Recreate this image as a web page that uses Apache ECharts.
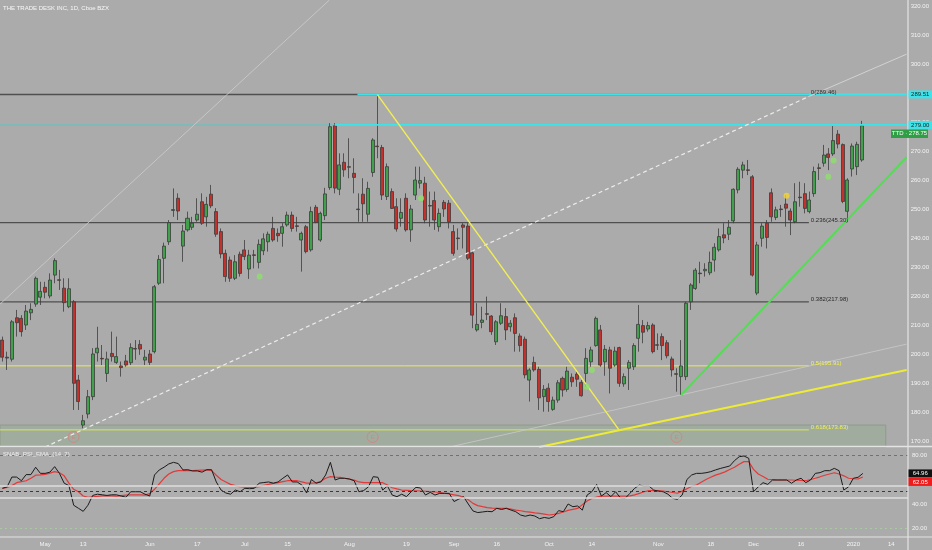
<!DOCTYPE html>
<html><head><meta charset="utf-8">
<script src="https://cdn.jsdelivr.net/npm/echarts@6/dist/echarts.min.js"></script>
<style>html,body{margin:0;padding:0;background:#ababab;overflow:hidden}#c{width:932px;height:550px}</style>
</head><body><div id="c"></div>
<script>
// ---------- categories ----------
const firstDay = '2019-04-17';
const categoryCount = 191;
const holidays = ['2019-04-19','2019-05-27','2019-07-04','2019-09-02','2019-11-28','2019-12-25','2020-01-01'];
const tickDates  = ['2019-05-01','2019-05-13','2019-06-03','2019-06-17','2019-07-01','2019-07-15','2019-08-01','2019-08-19','2019-09-03','2019-09-16','2019-10-01','2019-10-14','2019-11-01','2019-11-18','2019-12-02','2019-12-16','2020-01-02','2020-01-14'];
const tickLabels = ['May','13','Jun','17','Jul','15','Aug','19','Sep','16','Oct','14','Nov','18','Dec','16','2020','14'];
const priceTicks = [170,180,190,200,210,220,230,240,250,260,270,280,290,300,310,320];
const rsiTicks = [20,40,80];

// ---------- OHLC ----------
const open = [204.8,198.9,198.2,212.5,212.3,210,214.2,217.2,219.6,223,
220,227.2,225.6,222.7,216.3,218,191,175.5,179.3,185.3,
200.4,198.5,193.3,200.2,197.1,195.9,197.6,197,201.9,203.3,
197.9,200,200.8,224.4,233,238.7,249.5,253.7,237.2,242.8,
243.7,246.2,252.5,247.3,255.1,249.1,242.2,234.7,232.4,226.1,
234.4,235.9,229.3,234.2,231.6,235.6,238.7,243.3,241.6,241.6,
244.5,247.9,244.2,239.3,243.9,235.9,250.6,239.3,247.7,257.4,
278.7,256.8,266.1,264.6,262.3,250,255.1,248.2,262.6,271.7,
271.2,254.3,256,250.8,246.8,253.7,242.8,254.8,258.9,258.9,
251.2,252.9,243.9,252.3,252,242.2,240,244.5,244.1,234.9,
208.3,210.9,213.9,213.1,204.2,210.6,212.9,209.4,212.5,206.2,
205.1,191,197.1,194.7,185.3,188.2,180.9,184.1,191.6,187.8,
192,193.1,190.2,193.3,197.3,202.9,208.3,197.3,201.4,196.2,
202.2,189.7,195.1,195.6,205.4,209.8,208.6,210,203.2,206,
203.9,198.3,193.2,192.2,192.2,218,222.6,227.9,228.7,228,
232.4,235.9,241.1,241.3,245.9,256.6,263.4,263.5,261.1,221,
239.9,245.1,255.6,247.1,250,251.7,249.3,245.6,254.1,255.3,
249.1,255.3,264.2,265.8,269,269,275.8,272.2,249.2,263.8,
264.6,266.9];
const close = [198.9,198.6,211.1,210.8,207.7,214.8,215.4,226.1,221.6,221.3,
225.5,232.2,225.4,217.7,222.5,189.9,183.6,177,185.3,200,
202,198.3,198.3,199.1,199.1,195.3,196.2,202.2,201.7,201.7,
198.9,197.1,223.2,232.6,237.2,245.3,249.8,249.3,242.4,246.8,
245.1,248.2,245.1,251.6,251.1,241.3,234.5,226.7,226.1,231.8,
227.8,233.6,234.1,234,237.8,239.7,241.3,239.3,240.8,243.9,
247.9,243.3,244,241.6,235.3,249.1,245.4,248.5,255.2,278.4,
257.2,265.2,263.5,264.4,260.9,249.8,251.8,257.1,273.8,271.5,
254.8,264.6,250.2,243.1,248.8,242.8,250,260,259.8,246.2,
251,246.2,248.5,250,245.6,234.7,239.8,243.7,233,213.4,
210.2,211.7,213.7,207.7,211.1,213.2,208.3,210.6,207.1,202.9,
192.8,194.5,194.5,184.9,187.8,183.6,184.1,190.1,187.6,194.1,
190.4,191.3,185.6,198.5,201.4,212.3,196.2,201.6,195.1,201,
189.9,192.2,197.1,202.9,210.2,207.5,209.8,200.8,203,202.9,
199.4,194.5,193,195.9,217.5,223.8,228.9,227.7,229.2,231.6,
236.8,240.5,240,243.7,256.8,263.7,265.2,263.3,227.2,237.6,
244.1,240.2,247.3,249.7,249.8,250.3,246.2,252.5,253.9,250.2,
253.1,262.9,264,268.6,267.8,273.6,272.4,252.6,260,271.7,
272.3,278.75];
const low = [197.4,194.5,197.4,206,206,208.3,211.7,216.3,216.9,219.2,
219.2,224.4,222.1,214.6,215.8,180.7,180.7,174.4,177.8,184.1,
197.4,196.2,190.4,197.4,196.6,192.2,195.6,196.2,198,199.7,
196.2,196.2,200.2,223.8,224.4,237.6,247.3,246.2,231.8,242.2,
242.8,245.6,244.5,243.9,250.3,240.4,233,224.9,224.9,225.5,
226.7,232.4,225.9,229.5,229.5,234.1,235.3,238.7,238.7,237,
243.9,242.2,242.2,228.4,234.7,235.3,245.1,238.7,246.2,256.6,
255.4,254.8,261.1,260.6,255.4,245.6,245.6,245.6,261.1,267.5,
253.1,253.1,250,242.2,243.9,242.2,238.7,253.1,257.1,245.1,
243.9,242.8,242.2,247.3,243.3,233.9,235.9,236.4,232.4,208.9,
207.7,208.9,211.7,206.6,203.1,210,204.8,207.7,200.8,200.8,
191.6,183.6,193.9,180.7,180.1,180.1,180.4,183.2,185.3,187,
188.7,188.7,185.3,188.7,195.6,202.5,195.6,192.5,186.4,195.6,
188.7,188.7,187.6,194.5,200.8,203.7,207.7,200.2,201.4,197.9,
198.5,192.2,187,185.9,191,215.2,222.1,224.4,226.7,227.2,
228.4,235.3,238.2,239.3,245.1,255.4,260.6,261.7,226.7,220.3,
237,236.4,245.6,246.2,247.3,243.9,241,245.1,250.8,248.5,
248.5,254.2,260,264.6,263.4,268.3,270.9,252,245.7,261.2,
261.7,266.3];
const high = [206,200.8,211.7,215.2,213.4,216.9,217.5,226.7,224.9,224.9,
227.8,233,229,226.1,226.1,218.6,192.8,179,187.6,202,
209.4,203.1,200.8,207.7,206,197.4,199.7,203.7,204.8,204.8,
201.4,201.4,223.8,234.1,238.4,246.2,257.1,255.4,244.5,249.1,
247.3,253.7,255.4,254.2,258.3,250.3,243.3,236,233.6,234.1,
235.3,239.3,235.9,235.9,239.5,241.6,242.2,247.3,243.3,245.1,
249.1,249.1,247.3,242.2,244.5,250.8,251.4,249.1,257.3,279.6,
279.6,269.2,269.2,274.4,267.5,255.4,260.6,259.4,274.4,289.46,
272.1,265.7,257.1,253.7,253.7,255.4,251.4,264.6,264.6,261.1,
256,256,250.2,253.1,253.1,244.5,243.3,245.1,245.1,235.9,
217.5,216.3,219.8,213.4,211.7,217.5,215.8,211.7,214,207.1,
206,195.1,199.1,195.6,189.3,189.9,185.3,191,192.2,195.6,
193.3,193.9,191,202,202.5,212.9,210,203.1,202.5,202.5,
202.5,193.3,197.9,203.7,216.9,211.7,211.1,210.6,207.1,207.1,
204.8,199.1,195.1,204.8,218,224.4,229.6,231.8,231.3,235.3,
238.2,243.3,245.1,246.2,257.1,264.4,266.3,266.9,261.7,238.7,
245.1,246.2,257.1,250.8,251.4,254.8,250.2,258.9,259.4,258.9,
256,264.6,265.7,272.1,271,278.6,277.2,272.6,260.6,272.6,
273.2,280.4];

// ---------- RSI panel ----------
const rsi = [52.8,54,62,62,59,64,64,70,65,65,
66,70.5,65,57,55,39,36.5,34,39,47,
48,47.5,47,47.5,47.5,46.5,45.5,50,50,50,
48,46.5,63.7,67.8,70,72.7,74,73,67.8,68,
67,67,66,68,68,58,51.4,49,48,51.4,
50,52.8,52.5,52.8,57,57.5,58,57,58,61,
63.7,58,58,55.5,49,60,57,58,63.7,74,
59.6,61,61,60.4,59,50,51,54,62.3,61.8,
51.4,54.7,47.3,46,48,46,50,53.6,53,47.3,
49.5,47.3,48.7,48.7,48.7,42,44,46,40,34.3,
33,33.5,34,33.7,36.5,35.5,36.5,35,33.7,31,
30,31,30.2,28,29,28.3,29.7,34.6,33.7,40,
37.8,38.4,35,47.3,50,56,46.5,49.3,46,50,
45,44.6,48.7,52.8,55.5,54.5,54.7,51.4,50.5,50,
48,44.6,43.8,47.3,60,63.7,65,65,65.5,66.4,
67.8,69,70,71,75.4,78.6,79.2,77.3,50,54,
57.4,56,59.6,59.6,59.6,59.6,56.9,59.6,61,57.4,
59.6,65,65.6,67.2,67.2,69.1,67.2,51.4,54,61,
61.8,64.96];
const rsiEma = [52.8,53.5,55,57.4,58.2,59,61,63.5,63.8,64.2,
65.2,66.4,65.5,63,57,52,50,46.5,45.5,45.8,
46.3,46.6,46.7,46.6,46.5,46.8,47.2,47.5,47.5,47.5,
47.3,48.5,52,56.5,61,64.5,66.4,67.2,67.2,67.2,
67.2,67.4,67.6,67.8,67.2,63.5,60,58,56,55,
54.1,53.8,53.6,53.6,54.2,55.3,56,56.8,57.4,58.2,
59,59,59,58,57,57,57.2,58.5,61,62.3,
62,61.8,61,60.3,59.5,58,57.4,57.4,57.4,57.4,
57.4,55.5,53.3,52.3,51.4,51.2,50.9,50.8,50.6,50.4,
50.1,49.8,49.4,48.8,48.2,47.5,46.8,45.5,43.5,40.5,
38.7,37.8,37,36.6,36.5,36.5,36.4,35.8,35,34.5,
33.8,33.3,32.8,32.4,31.8,31,31.5,32.3,33.5,34.8,
35.6,36.4,39.5,42.5,44.6,45.6,46.4,46.5,46.5,46.5,
46.5,46.5,46.6,47.5,48.7,50,50.9,50.9,50.9,50.6,
50,49.4,48.8,50.5,52.5,54.5,55.5,57.8,60,61.8,
63.6,64.8,66.2,68.2,70,72.5,74.6,74.6,68.3,64.5,
62.5,60.2,59.9,59.6,59.6,59.6,59.6,59.4,59.2,59,
60,61,62.2,63.5,64.5,65.5,64.5,63,61,60.6,
60.4,62.05];
const rsiUpper = 80, rsiBandHigh = 55, rsiMid = 50, rsiBandLow = 45, rsiLower = 20;

// ---------- drawings (bar index, price) ----------
const fibRatios = ['0','0.236','0.382','0.5','0.618'];
const fibPrices = [289.46, 245.30, 217.98, 195.91, 173.83];
const fibSpan = [-0.5, 169.9];
const resistanceLevels = [289.51, 279.00];
const resistanceStarts = [74.8, 70.0];
const axisEnd = 190.5;
const yellowFall = [[79, 289.46], [129.9, 173.83]];
const yellowRise = [[113.1, 167.93], [190.5, 194.5]];
const grayRise = [[94.2, 167.93], [190.5, 203.4]];
const greenRise = [[143, 185.9], [190.5, 267.9]];
const dashedRise = [[9.0, 167.93], [169.9, 288.8]];
const dashedRiseExt = [[169.9, 288.8], [190.5, 303.4]];
const topLeftLine = [[-0.5, 217.2], [68.9, 322.07]];
const zoneBox = [[-0.5, 175.5], [186.1, 167.93]];
const greenDots = [[54.2, 226.7], [88.2, 253.7], [123.1, 188.7], [124.2, 194.5], [174, 261.1], [175.1, 266.7]];
const yellowDots = [[165.2, 254.6]];
const earnings = [[15, 171.4], [78, 171.4], [142, 171.4]];
const ticker = 'TTD';
const titleText = 'THE TRADE DESK INC, 1D, Cboe BZX';
const rsiTitle = 'SNAB_RSI_EMA_(14, 7)';

// ---------- build ----------
function buildDates() {
  const out = [];
  const p = firstDay.split('-').map(Number);
  const d = new Date(Date.UTC(p[0], p[1] - 1, p[2]));
  while (out.length < categoryCount) {
    const dow = d.getUTCDay();
    const s = d.toISOString().slice(0, 10);
    if (dow !== 0 && dow !== 6 && holidays.indexOf(s) < 0) out.push(s);
    d.setUTCDate(d.getUTCDate() + 1);
  }
  return out;
}
const dates = buildDates();
const candles = open.map((o, i) => [o, close[i], low[i], high[i]]);

const FONT = '"Liberation Sans", Arial, sans-serif';
const BG = '#ababab';
const P_MIN = 167.93, P_MAX = 322.07, R_MIN = 13.06, R_MAX = 86.53;

const chart = echarts.init(document.getElementById('c'), null, {renderer: 'canvas'});

function seg(points, style, z) {
  return {type: 'line', xAxisIndex: 2, yAxisIndex: 0, data: points, symbol: 'none', showSymbol: false,
    silent: true, lineStyle: style, z: z == null ? 4 : z, animation: false};
}

const series = [];
// zone box
series.push({type: 'line', xAxisIndex: 2, yAxisIndex: 0, data: zoneBox, symbol: 'none', lineStyle: {width: 0, opacity: 0}, z: 1,
  markArea: {silent: true, itemStyle: {color: 'rgba(125,178,112,0.22)', borderColor: '#8d9c8a', borderWidth: 1},
    data: [[{coord: zoneBox[0]}, {coord: zoneBox[1]}]]}});
const refIdx = 0;
// fib lines
fibPrices.forEach((p, k) => {
  series.push(seg([[fibSpan[0], p], [fibSpan[1], p]],
    {color: k < 3 ? '#4f4f4f' : (k === 3 ? '#eaea55' : '#d8e65a'), width: k < 3 ? 1.4 : 1}, 1));
});
// thin teal 279 to the left
series.push(seg([[-0.5, resistanceLevels[1]], [resistanceStarts[1], resistanceLevels[1]]], {color: '#55c8c8', width: 0.8}, 1));
// cyan resistance
resistanceLevels.forEach((p, k) => {
  series.push(seg([[resistanceStarts[k], p], [axisEnd, p]], {color: '#3ee3ea', width: 1.8}, 3));
});
series.push(seg(topLeftLine, {color: '#c9c9c9', width: 0.9}, 1));
series.push(seg(grayRise, {color: '#c6c6c6', width: 0.9}, 1));
series.push(seg(dashedRise, {color: '#ececec', width: 1.2, type: [4, 3]}, 3));
series.push(seg(dashedRiseExt, {color: '#d2d2d2', width: 1}, 3));
series.push(seg(yellowFall, {color: '#f3ef52', width: 1.4}, 4));
series.push(seg(yellowRise, {color: '#eeeb35', width: 2}, 4));
series.push(seg(greenRise, {color: '#4fe04f', width: 2}, 4));

// candles
series.push({type: 'candlestick', xAxisIndex: 0, yAxisIndex: 0, data: candles, barWidth: '74%', z: 2,
  itemStyle: {color: '#40a04b', color0: '#c4302c', borderColor: '#3c3c3c', borderColor0: '#3c3c3c',
    borderColorDoji: '#1e1e1e', borderWidth: 0.8}});
// dots
series.push({type: 'scatter', xAxisIndex: 2, yAxisIndex: 0, data: greenDots, symbolSize: 6, z: 5,
  itemStyle: {color: '#8fe06e'}});
series.push({type: 'scatter', xAxisIndex: 2, yAxisIndex: 0, data: yellowDots, symbolSize: 6, z: 5,
  itemStyle: {color: '#f4d431'}});
series.push({type: 'scatter', xAxisIndex: 2, yAxisIndex: 0, data: earnings, symbolSize: 11, z: 5,
  itemStyle: {color: 'rgba(0,0,0,0)', borderColor: '#d9807e', borderWidth: 1},
  label: {show: true, position: 'inside', formatter: 'E', color: '#d9807e', fontSize: 6, fontFamily: FONT}});

// RSI
series.push({type: 'line', xAxisIndex: 1, yAxisIndex: 1, data: rsi, symbol: 'none', z: 4,
  lineStyle: {color: '#1b1b1b', width: 1},
  markArea: {silent: true, itemStyle: {color: 'rgba(255,255,255,0.06)'}, data: [[{yAxis: rsiBandLow}, {yAxis: rsiBandHigh}]]},
  markLine: {silent: true, symbol: ['none', 'none'], label: {show: false}, animation: false,
    data: [
      {yAxis: rsiUpper, lineStyle: {color: '#d24848', type: [3, 3], width: 1}},
      {yAxis: rsiBandHigh, lineStyle: {color: '#dedede', type: 'solid', width: 1.6}},
      {yAxis: rsiBandLow, lineStyle: {color: '#dedede', type: 'solid', width: 1.6}},
      {yAxis: rsiMid, lineStyle: {color: '#3a3a3a', type: [3, 3], width: 1}},
      {yAxis: rsiLower, lineStyle: {color: '#a9c9a2', type: [2, 3], width: 1}}
    ]}});
series.push({type: 'line', xAxisIndex: 1, yAxisIndex: 1, data: rsiEma, symbol: 'none', z: 3,
  lineStyle: {color: '#e23a3a', width: 1.2}});

const labelColor = '#f3f3f3';
const option = {
  animation: false,
  backgroundColor: BG,
  grid: [
    {left: 0, right: 24, top: 0, height: 447},
    {left: 0, right: 24, top: 447, height: 90}
  ],
  xAxis: [
    {type: 'category', gridIndex: 0, data: dates, boundaryGap: true,
      axisLine: {show: false}, axisTick: {show: false}, axisLabel: {show: false}, splitLine: {show: false}},
    {type: 'category', gridIndex: 1, data: dates, boundaryGap: true,
      axisLine: {show: false}, axisTick: {show: false}, splitLine: {show: false},
      axisLabel: {show: true, margin: 4, color: labelColor, fontSize: 6, fontFamily: FONT,
        interval: (idx, val) => tickDates.indexOf(val) >= 0,
        formatter: (val) => { const k = tickDates.indexOf(val); return k >= 0 ? tickLabels[k] : ''; }}},
    {type: 'value', gridIndex: 0, min: -0.5, max: 190.5, show: false},
    {type: 'value', gridIndex: 1, min: -0.5, max: 190.5, show: false}
  ],
  yAxis: [
    {type: 'value', gridIndex: 0, position: 'right', min: P_MIN, max: P_MAX, splitLine: {show: false},
      axisLine: {show: false}, axisTick: {show: false},
      axisLabel: {show: true, margin: 4, color: labelColor, fontSize: 6, fontFamily: FONT,
        customValues: priceTicks, formatter: (v) => Number(v).toFixed(2)}},
    {type: 'value', gridIndex: 1, position: 'right', min: R_MIN, max: R_MAX, splitLine: {show: false},
      axisLine: {show: false}, axisTick: {show: false},
      axisLabel: {show: true, margin: 4, color: labelColor, fontSize: 6, fontFamily: FONT,
        customValues: rsiTicks, formatter: (v) => Number(v).toFixed(2)}}
  ],
  series: series
};
chart.setOption(option);

// ---------- annotations positioned from data ----------
const g = [];
function px(x, y) { return chart.convertToPixel({seriesIndex: refIdx}, [x, y]); }
function pyPrice(v) { return chart.convertToPixel({yAxisIndex: 0}, v); }
function pyRsi(v) { return chart.convertToPixel({yAxisIndex: 1}, v); }
function tag(x, y, w, h, bg, fg, text) {
  g.push({type: 'rect', shape: {x: x, y: y - h / 2, width: w, height: h}, style: {fill: bg}, z: 50});
  g.push({type: 'text', x: x + w / 2, y: y, z: 51,
    style: {text: text, fill: fg, font: '6px ' + FONT, align: 'center', verticalAlign: 'middle',
      textAlign: 'center', textVerticalAlign: 'middle'}});
}
// separators & axis line
g.push({type: 'line', shape: {x1: 0, y1: 446.5, x2: 932, y2: 446.5}, style: {stroke: '#e4e4e4', lineWidth: 1.4}, z: 40});
g.push({type: 'line', shape: {x1: 0, y1: 537, x2: 932, y2: 537}, style: {stroke: '#e4e4e4', lineWidth: 1.2}, z: 40});
g.push({type: 'line', shape: {x1: 908, y1: 0, x2: 908, y2: 550}, style: {stroke: '#e4e4e4', lineWidth: 1.2}, z: 40});
// fib labels
fibPrices.forEach((p, k) => {
  const pt = px(fibSpan[1], p);
  g.push({type: 'text', x: pt[0] + 2, y: pt[1] - 2.5, z: 30,
    style: {text: fibRatios[k] + '(' + p.toFixed(2) + ')', fill: k < 3 ? '#2b2b2b' : '#f2f24e',
      font: '6px ' + FONT, align: 'left', verticalAlign: 'middle', textAlign: 'left', textVerticalAlign: 'middle'}});
});
// price tags
resistanceLevels.forEach((p) => tag(908.5, pyPrice(p), 23.5, 8, '#3ee3ea', '#1c1c1c', p.toFixed(2)));
const lastClose = close[close.length - 1];
tag(891, pyPrice(lastClose) + 8, 37, 8.5, '#2f9e46', '#ffffff', ticker + ' \u00b7 ' + lastClose.toFixed(2));
// rsi tags
const rLast = rsi[rsi.length - 1], eLast = rsiEma[rsiEma.length - 1];
const yr = pyRsi(rLast);
let ye = pyRsi(eLast); if (ye < yr + 8.5) ye = yr + 8.5;
tag(908.5, yr, 23.5, 8, '#111111', '#ffffff', rLast.toFixed(2));
tag(908.5, ye, 23.5, 8, '#ee1c1c', '#ffffff', eLast.toFixed(2));
// titles
g.push({type: 'text', x: 3, y: 8, z: 30, style: {text: titleText, fill: '#f7f7f7', font: '6px ' + FONT,
  verticalAlign: 'middle', textVerticalAlign: 'middle'}});
g.push({type: 'text', x: 3, y: 454, z: 30, style: {text: rsiTitle, fill: '#eeeeee', font: '6px ' + FONT,
  verticalAlign: 'middle', textVerticalAlign: 'middle'}});
chart.setOption({graphic: g});
</script>
</body></html>
